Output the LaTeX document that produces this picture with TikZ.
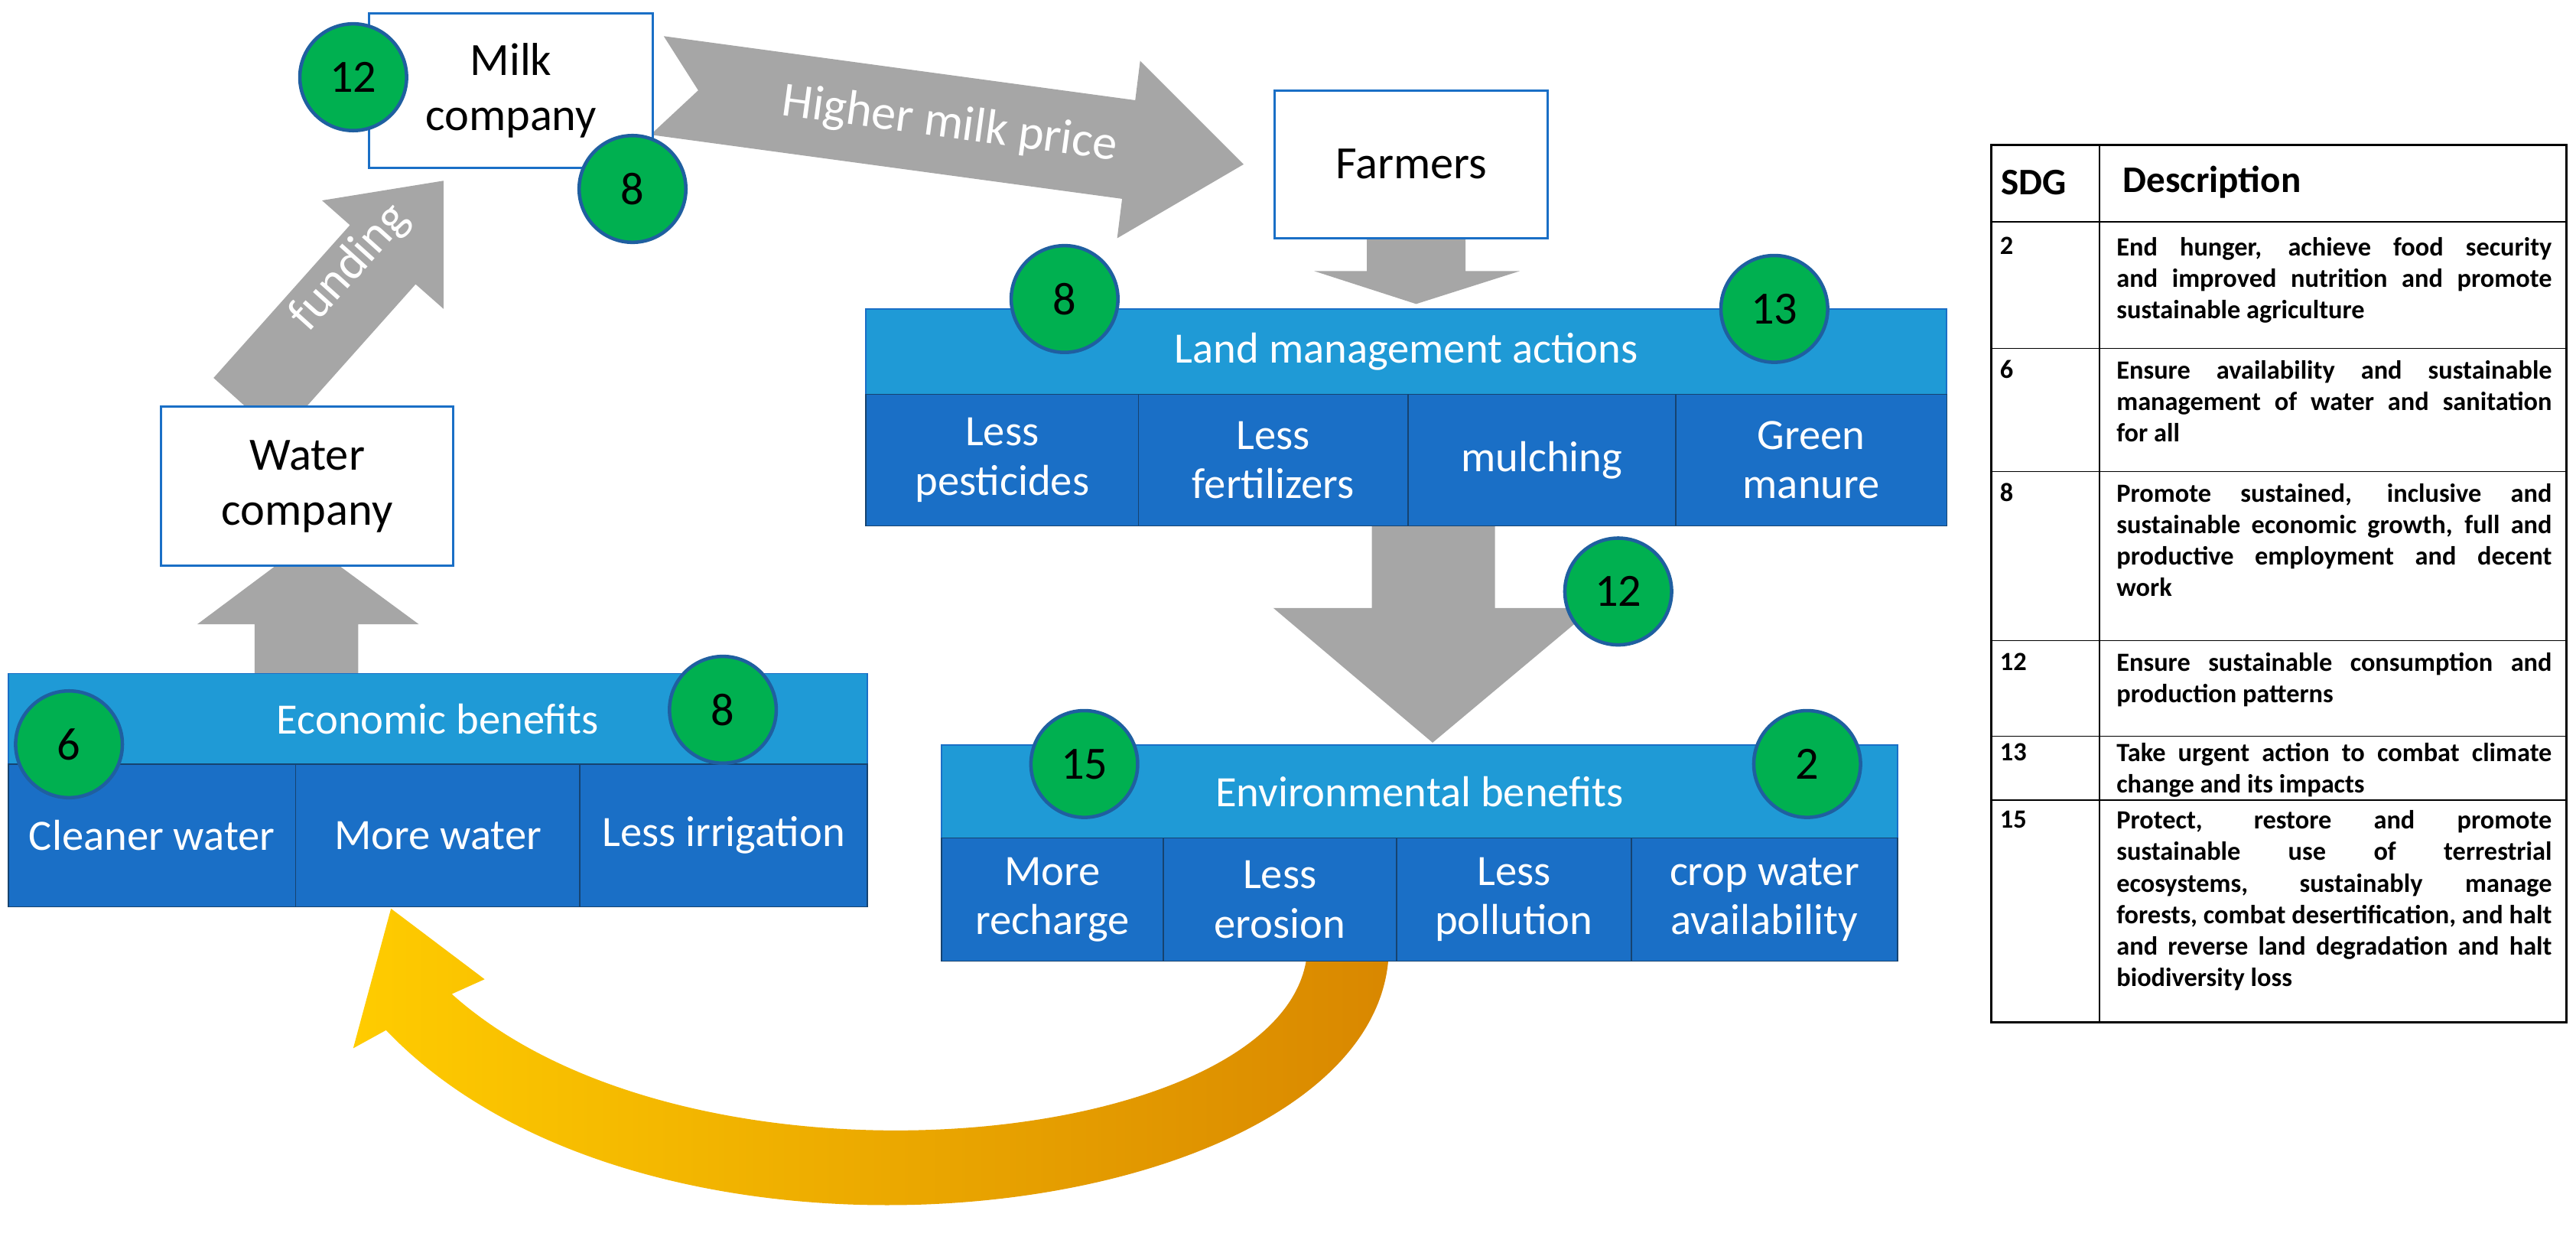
\documentclass[tikz,border=0pt]{standalone}
\usepackage{fontspec}
\setmainfont{Carlito}
\usetikzlibrary{calc}
\definecolor{lightb}{HTML}{1F9AD6}
\definecolor{darkb}{HTML}{1A6FC6}
\definecolor{sdggreen}{HTML}{00B050}
\definecolor{ringblue}{HTML}{1F5FA0}
\definecolor{arrgray}{HTML}{A6A6A6}
\newcommand\tabtext{\bfseries\fontsize{9.1}{10.9}\selectfont\hyphenpenalty 10000\exhyphenpenalty 10000\emergencystretch 3em\relax}
\begin{document}
\begin{tikzpicture}[x=0.02cm,y=-0.02cm,
  wbox/.style={draw=darkb,thick,fill=white,align=center,font=\fontsize{16}{19}\selectfont},
  bar/.style={fill=lightb,draw=darkb,text=white,font=\fontsize{15}{18}\selectfont},
  cell/.style={fill=darkb,draw=ringblue!70!black,text=white,align=center,font=\fontsize{15}{17}\selectfont},
  sdg/.style={circle,fill=sdggreen,draw=ringblue,very thick,minimum size=1.3cm,inner sep=0pt,font=\fontsize{16}{18}\selectfont},
  garrow/.style={fill=arrgray,draw=none},
  tab/.style={font=\tabtext,align=justify,text width=5.3cm,inner sep=0pt,anchor=north west},
  tabn/.style={font=\tabtext,inner sep=0pt,anchor=north west}]
\useasboundingbox (0,0) rectangle (1568,764);

% arrows
\fill[garrow] (404,22) -- (425,55) -- (396,82) -- (683,121) -- (680,145) -- (757,100) -- (694,37) -- (691,61) -- cycle;
\node[text=white,rotate=-7.7,font=\fontsize{17}{20}\selectfont] (hmp) at (578,76) {Higher milk price};
\fill[garrow] (130,230) -- (213,137) -- (196,122) -- (270,110) -- (270,188) -- (253,173) -- (170,266) -- cycle;
\node[text=white,rotate=48,font=\fontsize{17}{20}\selectfont] (fund) at (213,163) {funding};
\fill[garrow] (832,145) -- (892,145) -- (892,165) -- (925,165) -- (862,185) -- (800,165) -- (832,165) -- cycle;
\fill[garrow] (835,320) -- (910,320) -- (910,370) -- (970,370) -- (872,452) -- (775,370) -- (835,370) -- cycle;
\fill[garrow] (155,412) -- (218,412) -- (218,380) -- (255,380) -- (187,330) -- (120,380) -- (155,380) -- cycle;

% curved arrow
\shade[left color=yellow!60!orange,right color=orange!75!yellow!85!black]
  (845,585) .. controls (830,745) and (400,800) .. (235,627)
  -- (215,638) -- (238,553) -- (295,596) -- (275,605)
  .. controls (420,735) and (775,700) .. (795,585) -- cycle;

% boxes
\node[wbox,minimum width=3.46cm,minimum height=1.88cm] (milk) at (311,55) {Milk\\company};
\node[wbox,minimum width=3.32cm,minimum height=1.8cm] (farm) at (859,100) {Farmers};
\node[wbox,minimum width=3.56cm,minimum height=1.94cm] (water) at (187,296) {Water\\company};

% land management
\node[bar,minimum width=13.16cm,minimum height=1.04cm] (land) at (856,214) {Land management actions};
\node[cell,minimum width=3.32cm,minimum height=1.6cm] (l1) at (610,280) {Less\\pesticides};
\node[cell,minimum width=3.28cm,minimum height=1.6cm] (l2) at (775,280) {Less\\fertilizers};
\node[cell,minimum width=3.26cm,minimum height=1.6cm] (l3) at (938.5,280) {mulching};
\node[cell,minimum width=3.3cm,minimum height=1.6cm] (l4) at (1102.5,280) {Green\\manure};

% environmental benefits
\node[bar,minimum width=11.64cm,minimum height=1.14cm] (env) at (864,482) {Environmental benefits};
\node[cell,minimum width=2.7cm,minimum height=1.5cm] (e1) at (640.5,547.5) {More\\recharge};
\node[cell,minimum width=2.84cm,minimum height=1.5cm] (e2) at (779,547.5) {Less\\erosion};
\node[cell,minimum width=2.86cm,minimum height=1.5cm] (e3) at (921.5,547.5) {Less\\pollution};
\node[cell,minimum width=3.24cm,minimum height=1.5cm] (e4) at (1074,547.5) {crop water\\availability};

% economic benefits
\node[bar,minimum width=10.46cm,minimum height=1.1cm] (eco) at (266.5,437.5) {Economic benefits};
\node[cell,minimum width=3.5cm,minimum height=1.74cm] (c1) at (92.5,508.5) {Cleaner water};
\node[cell,minimum width=3.46cm,minimum height=1.74cm] (c2) at (266.5,508.5) {More water};
\node[cell,minimum width=3.5cm,minimum height=1.74cm] (c3) at (440.5,508.5) {Less irrigation};

% SDG circles
\node[sdg] (s12a) at (215,47) {12};
\node[sdg] (s8a) at (385,115) {8};
\node[sdg] (s8b) at (648,182) {8};
\node[sdg] (s13) at (1080,188) {13};
\node[sdg] (s12b) at (985,360) {12};
\node[sdg] (s15) at (660,465) {15};
\node[sdg] (s2) at (1100,465) {2};
\node[sdg] (s6) at (42,453) {6};
\node[sdg] (s8c) at (440,432) {8};

% table
\draw[thick] (1212,88) rectangle (1562,622);
\draw (1278,88) -- (1278,622);
\foreach \y in {135,212,287,390,448,487} \draw (1212,\y) -- (1562,\y);
\node[font=\bfseries\fontsize{13}{15}\selectfont,anchor=west] (th1) at (1212,111) {SDG};
\node[font=\bfseries\fontsize{13}{15}\selectfont,anchor=west] (th2) at (1286,111) {Description};
\node[tabn] (n2) at (1217,144) {2};
\node[tab] (d2) at (1288,144) {End hunger, achieve food security and improved nutrition and promote sustainable agriculture};
\node[tabn] (n6) at (1217,219) {6};
\node[tab] (d6) at (1288,219) {Ensure availability and sustainable management of water and sanitation for all};
\node[tabn] (n8) at (1217,294) {8};
\node[tab] (d8) at (1288,294) {Promote sustained, inclusive and sustainable economic growth, full and productive employment and decent work};
\node[tabn] (n12) at (1217,397) {12};
\node[tab] (d12) at (1288,397) {Ensure sustainable consumption and production patterns};
\node[tabn] (n13) at (1217,452) {13};
\node[tab] (d13) at (1288,452) {Take urgent action to combat climate change and its impacts};
\node[tabn] (n15) at (1217,493) {15};
\node[tab] (d15) at (1288,493) {Protect, restore and promote sustainable use of terrestrial ecosystems, sustainably manage forests, combat desertification, and halt and reverse land degradation and halt biodiversity loss};
\end{tikzpicture}
\end{document}
